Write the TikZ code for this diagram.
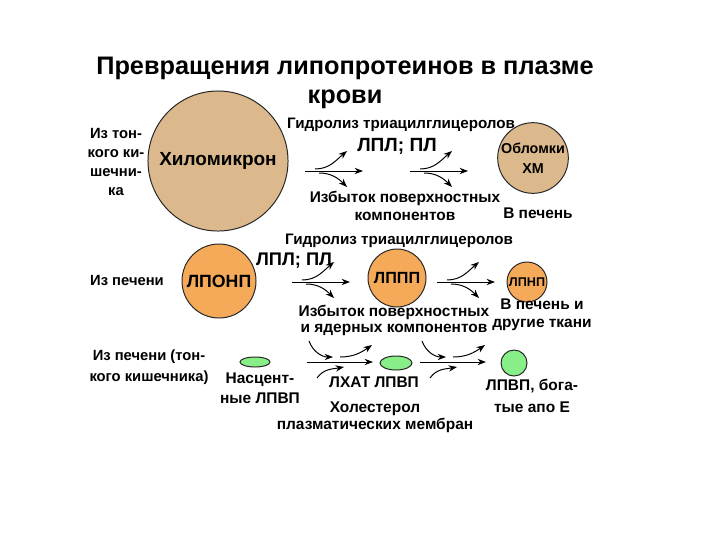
\documentclass[tikz,border=0pt]{standalone}
\usepackage{fontspec}
\setmainfont{Liberation Sans}
\usetikzlibrary{positioning,shapes.geometric,arrows.meta}
\definecolor{xmtan}{RGB}{220,185,140}
\definecolor{lporange}{RGB}{245,170,90}
\definecolor{hdlgreen}{RGB}{136,238,136}
\tikzstyle{flow} = [line width=0.7pt,-{Stealth[length=6pt,width=4.5pt]}]
\tikzstyle{drop} = [circle,draw=black!85,line width=0.7pt,inner sep=0pt,align=center]
\tikzstyle{lbl} = [inner sep=0pt,align=center,font=\bfseries\fontsize{11}{12.8}\selectfont]

\begin{document}
\begin{tikzpicture}[x=0.025cm,y=-0.025cm]
    \useasboundingbox[fill=white] (0,0) rectangle (720,540);
    % title
    \node[lbl,font=\bfseries\fontsize{18}{21}\selectfont](title) at (345,83){Превращения липопротеинов в плазме\\крови};
    % chylomicrons
    \node[drop,fill=xmtan,minimum size=3.5cm,font=\bfseries\fontsize{13.5}{16}\selectfont](xm) at (218,161){Хиломикрон};
    \node[lbl,font=\bfseries\fontsize{10.5}{13.5}\selectfont](src_1) at (116,162){Из тон-\\кого ки-\\шечни-\\ка};
    \node[lbl,font=\bfseries\fontsize{10.8}{13}\selectfont](hyd_1) at (401,125){Гидролиз триацилглицеролов};
    \node[lbl,font=\bfseries\fontsize{13.6}{16}\selectfont](enz_1) at (397,146){ЛПЛ; ПЛ};
    \node[lbl](exc_1) at (405,206){Избыток поверхностных\\компонентов};
    \node[drop,fill=xmtan,minimum size=1.6cm,font=\bfseries\fontsize{10.2}{14.2}\selectfont](xm_r) at (533,158){Обломки\\ХМ};
    \node[lbl](liv_1) at (538,213){В печень};
    % VLDL
    \node[lbl,font=\bfseries\fontsize{10.5}{13}\selectfont](src_2) at (127,280){Из печени};
    \node[drop,fill=lporange,minimum size=1.85cm,font=\bfseries\fontsize{12.6}{15}\selectfont](vldl) at (219,281){ЛПОНП};
    \node[lbl,font=\bfseries\fontsize{10.8}{13}\selectfont](hyd_2) at (399,241){Гидролиз триацилглицеролов};
    \node[lbl,font=\bfseries\fontsize{13}{15}\selectfont](enz_2) at (294,261){ЛПЛ; ПЛ};
    \node[drop,fill=lporange,minimum size=1.45cm,font=\bfseries\fontsize{11.5}{14}\selectfont](idl) at (397,278){ЛППП};
    \node[drop,fill=lporange,minimum size=1.0cm,font=\bfseries\fontsize{9}{11}\selectfont](ldl) at (527,282){ЛПНП};
    \node[lbl,font=\bfseries\fontsize{11}{11.4}\selectfont](exc_2) at (394,320){Избыток поверхностных\\и ядерных компонентов};
    \node[lbl](liv_2) at (542,315){В печень и\\другие ткани};
    % HDL
    \node[lbl,font=\bfseries\fontsize{10.5}{15}\selectfont](src_3) at (149,367){Из печени (тон-\\кого кишечника)};
    \node[drop,ellipse,fill=hdlgreen,minimum width=0.75cm,minimum height=0.25cm](hdl_1) at (255,362){};
    \node[lbl,font=\bfseries\fontsize{11}{14.2}\selectfont](hdl_1l) at (260,388){Насцент-\\ные ЛПВП};
    \node[drop,ellipse,fill=hdlgreen,minimum width=0.8cm,minimum height=0.35cm](hdl_2) at (396,363){};
    \node[lbl](lcat) at (374,382){ЛХАТ ЛПВП};
    \node[lbl,font=\bfseries\fontsize{11}{12}\selectfont](chol) at (375,417){Холестерол\\плазматических мембран};
    \node[drop,fill=hdlgreen,minimum size=0.65cm](hdl_3) at (514,363){};
    \node[lbl,font=\bfseries\fontsize{11}{16}\selectfont](hdl_3l) at (532,396){ЛПВП, бога-\\тые апо Е};
    % split arrows, rows 1 and 2
    \foreach \n/\x/\y in {1/305/171,2/410/171,3/292/282,4/437/282}{
    	\coordinate (h\n_a) at (\x,\y);
    	\coordinate (h\n_b) at (\x+58,\y);
    	\coordinate (h\n_u0) at (\x+10,\y-2);
    	\coordinate (h\n_u1) at (\x+42,\y-20);
    	\coordinate (h\n_d0) at (\x+14,\y+2);
    	\coordinate (h\n_d1) at (\x+42,\y+16);
    	\draw[flow] (h\n_a) -- (h\n_b);
    	\draw[flow] (h\n_u0) to[out=0,in=220] (h\n_u1);
    	\draw[flow] (h\n_d0) to[out=0,in=135] (h\n_d1);
    }
    % merging arrows, row 3
    \foreach \n/\x/\y in {5/307/362,6/420/362}{
    	\coordinate (m\n_a) at (\x,\y);
    	\coordinate (m\n_b) at (\x+66,\y);
    	\coordinate (m\n_t0) at (\x+2,\y-21);
    	\coordinate (m\n_t1) at (\x+26,\y-5);
    	\coordinate (m\n_o0) at (\x+33,\y-5);
    	\coordinate (m\n_o1) at (\x+65,\y-17);
    	\coordinate (m\n_l0) at (\x+10,\y+16);
    	\coordinate (m\n_l1) at (\x+37,\y+5);
    	\draw[flow] (m\n_a) -- (m\n_b);
    	\draw[flow] (m\n_t0) to[out=-70,in=180] (m\n_t1);
    	\draw[flow] (m\n_o0) to[out=0,in=215] (m\n_o1);
    	\draw[flow] (m\n_l0) to[out=55,in=190] (m\n_l1);
    }
\end{tikzpicture}
\end{document}
